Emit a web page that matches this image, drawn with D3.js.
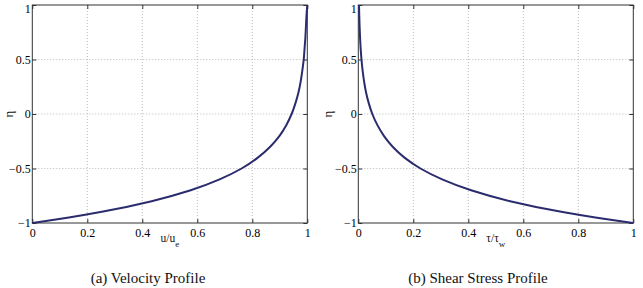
<!DOCTYPE html>
<html>
<head>
<meta charset="utf-8">
<script src="https://cdn.jsdelivr.net/npm/d3@7"></script>
<style>
  html, body { margin: 0; padding: 0; background: #fff; }
  svg { display: block; }
  text { font-family: "Liberation Serif", "Times New Roman", "DejaVu Serif", serif; fill: #111; }
</style>
</head>
<body>
<svg id="chart" width="643" height="288"></svg>
<script>
// ---- data ----
const eta       = [-1, -0.95, -0.9, -0.8, -0.7, -0.6, -0.5, -0.4, -0.3, -0.2, -0.1, 0,
                   0.1, 0.2, 0.3, 0.4, 0.5, 0.6, 0.7, 0.8, 0.9, 1];
const uVel      = [0, 0.133, 0.248, 0.434, 0.576, 0.681, 0.761, 0.82, 0.865, 0.899, 0.924, 0.943,
                   0.957, 0.968, 0.976, 0.982, 0.987, 0.99, 0.993, 0.995, 0.997, 1];
const tauStress = [1, 0.862, 0.743, 0.552, 0.41, 0.305, 0.226, 0.168, 0.125, 0.093, 0.069, 0.051,
                   0.038, 0.028, 0.021, 0.0156, 0.0116, 0.0086, 0.0064, 0.0048, 0.0035, 0.0026];

const xTicks = [0, 0.2, 0.4, 0.6, 0.8, 1];
const xTickLabels = ["0", "0.2", "0.4", "0.6", "0.8", "1"];
const yTicks = [-1, -0.5, 0, 0.5, 1];
const yTickLabels = ["\u22121", "\u22120.5", "0", "0.5", "1"];

const panels = [
  { left: 32.3, right: 307.3, values: uVel, xlab: "u/u", xsub: "e", caption: "(a) Velocity Profile", capX: 148, ylabX: 8 },
  { left: 358.3, right: 633.3, values: tauStress, xlab: "\u03c4/\u03c4", xsub: "w", caption: "(b) Shear Stress Profile", capX: 478, ylabX: 327 }
];

const plotTop = 5, plotBottom = 223;
const serif = '"Liberation Serif", "Times New Roman", "DejaVu Serif", serif';
const svg = d3.select("#chart");

panels.forEach(p => {
  const x = d3.scaleLinear().domain([0, 1]).range([p.left, p.right]);
  const y = d3.scaleLinear().domain([-1, 1]).range([plotBottom, plotTop]);
  const g = svg.append("g");

  // grid
  g.append("g").selectAll("line")
    .data(xTicks.filter(v => v > 0 && v < 1)).join("line")
    .attr("x1", d => x(d)).attr("x2", d => x(d))
    .attr("y1", plotTop).attr("y2", plotBottom)
    .attr("stroke", "#aaa").attr("stroke-width", 0.8).attr("stroke-dasharray", "1,2");
  g.append("g").selectAll("line")
    .data(yTicks.filter(v => v > -1 && v < 1)).join("line")
    .attr("y1", d => y(d)).attr("y2", d => y(d))
    .attr("x1", p.left).attr("x2", p.right)
    .attr("stroke", "#aaa").attr("stroke-width", 0.8).attr("stroke-dasharray", "1,2");

  // axes
  const fmtX = (d, i) => xTickLabels[i];
  const fmtY = (d, i) => yTickLabels[i];
  const ax = [
    g.append("g").attr("transform", `translate(0,${plotBottom})`)
      .call(d3.axisBottom(x).tickValues(xTicks).tickFormat(fmtX).tickSizeInner(-4).tickSizeOuter(0).tickPadding(5)),
    g.append("g").attr("transform", `translate(${p.left},0)`)
      .call(d3.axisLeft(y).tickValues(yTicks).tickFormat(fmtY).tickSizeInner(-4).tickSizeOuter(0).tickPadding(1.5)),
    g.append("g").attr("transform", `translate(0,${plotTop})`)
      .call(d3.axisTop(x).tickValues(xTicks).tickFormat("").tickSizeInner(-4).tickSizeOuter(0)),
    g.append("g").attr("transform", `translate(${p.right},0)`)
      .call(d3.axisRight(y).tickValues(yTicks).tickFormat("").tickSizeInner(-4).tickSizeOuter(0))
  ];
  ax.forEach(a => {
    a.select(".domain").remove();
    a.attr("font-family", null);
    a.selectAll(".tick line").attr("stroke", "#333");
    a.selectAll(".tick text").style("font-family", serif).style("font-size", "12px").style("fill", "#000");
  });
  // keep the top "1" label inside the picture
  ax[1].selectAll(".tick text").filter(d => d === 1).attr("dy", "0.62em");

  // box
  g.append("rect").attr("x", p.left).attr("y", plotTop)
    .attr("width", p.right - p.left).attr("height", plotBottom - plotTop)
    .attr("fill", "none").attr("stroke", "#333").attr("stroke-width", 1);

  // curve
  const line = d3.line()
    .x((d, i) => x(p.values[i]))
    .y((d, i) => y(eta[i]))
    .curve(d3.curveMonotoneY);
  g.append("path").datum(eta).attr("d", line)
    .attr("fill", "none").attr("stroke", "#2b2c6e").attr("stroke-width", 2);

  // x label with subscript
  const cx = (p.left + p.right) / 2;
  const xl = g.append("text").attr("x", cx).attr("y", 242).attr("text-anchor", "middle")
    .style("font-family", serif).style("font-size", "11.5px");
  xl.append("tspan").text(p.xlab);
  xl.append("tspan").attr("dy", 5).style("font-size", "9px").text(p.xsub);

  // y label
  g.append("text").attr("transform", `translate(${p.ylabX},${y(0)}) rotate(-90)`)
    .attr("text-anchor", "middle").attr("dy", "0.35em")
    .style("font-family", serif).style("font-size", "13px").text("\u03b7");

  // caption
  g.append("text").attr("x", p.capX).attr("y", 283).attr("text-anchor", "middle")
    .style("font-family", serif).style("font-size", "15px").text(p.caption);
});
</script>
</body>
</html>
